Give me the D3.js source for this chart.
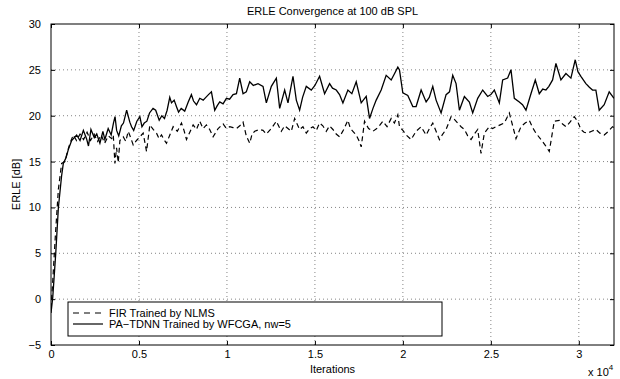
<!DOCTYPE html>
<html>
<head>
<meta charset="utf-8">
<script src="https://cdn.jsdelivr.net/npm/d3@7"></script>
<style>
  body { margin: 0; background: #fff; }
  svg { display: block; font-family: 'Liberation Sans', Arial, Helvetica, sans-serif; }
</style>
</head>
<body>
<div id="app"></div>
<script>
// iterations -> ERLE in dB
const xTicks = [0, 5000, 10000, 15000, 20000, 25000, 30000]
const yTicks = [-5, 0, 5, 10, 15, 20, 25, 30]

const firIter = [0, 100, 250, 420, 605, 794, 950, 1078, 1267, 1450, 1650, 1850, 2050, 2250, 2450, 2650, 2850, 3050, 3250, 3450, 3540, 3632, 3727, 3822, 3916, 4105, 4250, 4389, 4530, 4673, 4860, 5051, 5240, 5430, 5619, 5808, 5997, 6140, 6281, 6420, 6565, 6754, 6943, 7180, 7416, 7560, 7700, 7890, 8079, 8270, 8456, 8640, 8835, 9020, 9214, 9500, 9781, 9970, 10160, 10348, 10538, 10730, 10916, 11100, 11294, 11430, 11578, 11862, 12050, 12240, 12524, 12808, 13091, 13280, 13470, 13660, 13848, 14132, 14320, 14510, 14700, 14888, 15080, 15267, 15450, 15645, 15830, 16024, 16210, 16402, 16640, 16875, 17020, 17159, 17348, 17500, 17632, 17821, 18050, 18295, 18580, 18862, 19100, 19335, 19520, 19713, 19807, 20000, 20185, 20469, 20750, 21037, 21321, 21510, 21699, 21888, 22077, 22266, 22456, 22740, 22930, 23118, 23307, 23496, 23685, 23875, 24064, 24253, 24442, 24631, 24915, 25100, 25294, 25530, 25767, 26051, 26240, 26429, 26713, 26950, 27186, 27375, 27564, 27848, 28085, 28321, 28605, 28889, 29078, 29267, 29500, 29740, 29930, 30118, 30300, 30497, 30730, 30970, 31200, 31443, 31680, 31916, 32000]
const firErle = [-1.0, 2.0, 7.0, 12.0, 14.8, 15.0, 16.2, 17.0, 17.9, 17.3, 18.0, 17.4, 18.2, 17.3, 18.0, 17.2, 17.9, 17.0, 17.8, 17.5, 17.9, 14.8, 16.5, 14.9, 17.3, 17.7, 17.2, 18.3, 17.6, 16.8, 17.3, 17.7, 18.1, 16.1, 19.0, 18.5, 18.1, 17.5, 17.9, 17.4, 17.0, 17.9, 18.8, 18.3, 19.2, 18.4, 17.4, 18.2, 19.0, 18.5, 19.4, 18.6, 19.0, 18.5, 17.7, 18.6, 19.1, 18.6, 18.8, 18.7, 18.6, 18.9, 19.3, 17.8, 17.0, 18.0, 18.3, 18.5, 18.4, 18.0, 18.6, 19.4, 18.3, 18.9, 18.6, 18.3, 19.7, 18.5, 18.8, 18.1, 18.6, 18.8, 18.4, 19.2, 18.9, 18.3, 18.9, 18.5, 18.0, 17.7, 18.5, 19.5, 18.6, 18.3, 17.9, 17.3, 16.6, 19.4, 18.6, 18.3, 18.7, 19.4, 18.8, 19.7, 19.2, 20.1, 18.8, 18.4, 17.9, 17.4, 18.3, 18.8, 17.9, 18.6, 19.2, 18.3, 17.4, 18.0, 18.5, 19.9, 19.6, 19.2, 18.8, 18.5, 17.8, 17.4, 18.0, 18.5, 15.9, 18.1, 18.8, 18.6, 18.8, 19.0, 19.2, 20.3, 18.9, 17.5, 18.8, 19.2, 19.5, 18.7, 18.1, 17.4, 16.8, 16.1, 19.4, 19.5, 19.1, 18.8, 19.3, 19.9, 19.4, 18.5, 18.2, 18.1, 18.3, 18.5, 18.1, 17.9, 18.3, 18.8, 18.7]

const tdnnIter = [0, 100, 270, 420, 600, 700, 850, 984, 1173, 1457, 1650, 1840, 2020, 2130, 2270, 2460, 2600, 2780, 2950, 3060, 3250, 3420, 3550, 3640, 3730, 3850, 4000, 4120, 4300, 4480, 4580, 4700, 4880, 5050, 5170, 5300, 5450, 5600, 5800, 5950, 6150, 6300, 6450, 6600, 6750, 6850, 7000, 7150, 7250, 7400, 7600, 7800, 7980, 8100, 8270, 8456, 8650, 8800, 8950, 9118, 9307, 9450, 9591, 9780, 9970, 10150, 10348, 10540, 10726, 10916, 11100, 11294, 11500, 11767, 12051, 12240, 12524, 12808, 12997, 13281, 13470, 13754, 13943, 14132, 14300, 14510, 14794, 15000, 15267, 15551, 15835, 16000, 16213, 16400, 16592, 16875, 17100, 17348, 17632, 17916, 18105, 18300, 18484, 18767, 19051, 19335, 19500, 19713, 19807, 19996, 20280, 20564, 20753, 21037, 21321, 21500, 21699, 21888, 22172, 22456, 22650, 22834, 23023, 23213, 23496, 23780, 23969, 24253, 24537, 24821, 25000, 25199, 25483, 25672, 25956, 26145, 26334, 26618, 26800, 26997, 27280, 27526, 27753, 27950, 28131, 28300, 28510, 28699, 28983, 29267, 29551, 29797, 29950, 30118, 30402, 30600, 30780, 30970, 31159, 31443, 31727, 32000]
const tdnnErle = [-1.5, 0.2, 5.0, 10.0, 13.4, 14.8, 15.4, 16.3, 17.3, 17.9, 17.3, 18.4, 17.5, 16.7, 18.5, 17.6, 18.0, 17.0, 18.3, 17.4, 18.6, 17.9, 19.2, 19.9, 18.4, 17.8, 18.9, 19.2, 20.6, 19.3, 18.8, 18.4, 19.4, 19.9, 18.8, 19.2, 19.4, 20.3, 20.8, 20.6, 19.5, 20.0, 19.7, 20.6, 22.0, 21.4, 21.7, 20.9, 20.4, 20.8, 20.5, 21.5, 22.3, 21.6, 21.2, 21.9, 21.7, 22.0, 22.3, 22.6, 20.6, 21.1, 21.5, 21.3, 21.9, 21.8, 22.3, 22.4, 24.1, 22.4, 22.6, 23.7, 23.3, 23.5, 23.2, 21.4, 23.2, 24.1, 20.8, 22.8, 21.4, 24.3, 21.7, 20.6, 22.0, 23.2, 22.8, 23.3, 24.3, 22.4, 23.5, 23.0, 22.8, 22.3, 21.4, 22.8, 22.4, 23.7, 21.4, 22.1, 19.7, 20.8, 21.7, 22.8, 24.4, 23.9, 24.5, 25.3, 25.0, 22.5, 22.2, 21.0, 21.0, 22.8, 21.5, 22.0, 23.2, 21.7, 20.3, 22.3, 22.6, 24.4, 23.5, 20.6, 22.1, 21.5, 20.3, 21.9, 22.8, 22.1, 22.3, 22.8, 21.4, 23.9, 24.1, 25.0, 21.9, 21.5, 21.2, 20.6, 22.4, 23.9, 22.4, 22.9, 22.8, 23.2, 23.9, 25.7, 23.9, 24.6, 24.1, 26.1, 24.8, 24.3, 23.5, 23.1, 22.8, 22.8, 20.6, 21.2, 22.6, 21.9]

const seriesNames = ['FIR Trained by NLMS', 'PA\u2212TDNN Trained by WFCGA, nw=5']

const width = 620
const height = 379
const margin = { top: 24, right: 6, bottom: 34, left: 51 }

const svg = d3.select('#app').append('svg')
  .attr('width', width)
  .attr('height', height)
  .attr('viewBox', `0 0 ${width} ${height}`)

svg.append('rect').attr('width', width).attr('height', height).attr('fill', '#fff')

const x = d3.scaleLinear().domain([0, 32000]).range([margin.left, width - margin.right])
const y = d3.scaleLinear().domain([-5, 30]).range([height - margin.bottom, margin.top])

const x0 = margin.left, x1 = width - margin.right
const y0 = height - margin.bottom, y1 = margin.top

// dotted grid
const grid = svg.append('g')
  .attr('stroke', '#666')
  .attr('stroke-width', 0.8)
  .attr('stroke-dasharray', '1,3')
grid.selectAll('.gx')
  .data(xTicks.filter((d) => d > 0))
  .join('line')
  .attr('x1', (d) => x(d)).attr('x2', (d) => x(d))
  .attr('y1', y0).attr('y2', y1)
grid.selectAll('.gy')
  .data(yTicks.filter((d) => d > -5 && d < 30))
  .join('line')
  .attr('x1', x0).attr('x2', x1)
  .attr('y1', (d) => y(d)).attr('y2', (d) => y(d))

svg.append('clipPath').attr('id', 'plot-clip')
  .append('rect').attr('x', x0).attr('y', y1).attr('width', x1 - x0).attr('height', y0 - y1)

const firData = firIter.map((d, i) => [d, firErle[i]])
const tdnnData = tdnnIter.map((d, i) => [d, tdnnErle[i]])

const line = d3.line().x((d) => x(d[0])).y((d) => y(d[1]))

const plot = svg.append('g').attr('clip-path', 'url(#plot-clip)')
plot.append('path')
  .datum(firData)
  .attr('d', line)
  .attr('fill', 'none')
  .attr('stroke', '#000')
  .attr('stroke-width', 1.2)
  .attr('stroke-dasharray', '5,3.5')
plot.append('path')
  .datum(tdnnData)
  .attr('d', line)
  .attr('fill', 'none')
  .attr('stroke', '#000')
  .attr('stroke-width', 1.3)

// axes, ticks pointing inward like matlab
const fmtX = (d) => String(d / 10000)

svg.append('g')
  .attr('transform', `translate(0,${y0})`)
  .call(d3.axisBottom(x).tickValues(xTicks).tickFormat(fmtX).tickSizeInner(-4).tickSizeOuter(0).tickPadding(5))
svg.append('g')
  .attr('transform', `translate(0,${y1})`)
  .call(d3.axisTop(x).tickValues(xTicks).tickFormat('').tickSizeInner(-4).tickSizeOuter(0))
svg.append('g')
  .attr('transform', `translate(${x0},0)`)
  .call(d3.axisLeft(y).tickValues(yTicks).tickFormat((d) => (d < 0 ? '\u2212' + -d : d)).tickSizeInner(-4).tickSizeOuter(0).tickPadding(10))
svg.append('g')
  .attr('transform', `translate(${x1},0)`)
  .call(d3.axisRight(y).tickValues(yTicks).tickFormat('').tickSizeInner(-4).tickSizeOuter(0))

svg.selectAll('.tick text').attr('font-size', 11).attr('font-family', null).attr('fill', '#000')
svg.selectAll('.domain').remove()

svg.append('rect')
  .attr('x', x0).attr('y', y1)
  .attr('width', x1 - x0).attr('height', y0 - y1)
  .attr('fill', 'none').attr('stroke', '#000').attr('stroke-width', 1)

// labels
svg.append('text')
  .attr('x', (x0 + x1) / 2).attr('y', 15)
  .attr('text-anchor', 'middle').attr('font-size', 11)
  .text('ERLE Convergence at 100 dB SPL')

svg.append('text')
  .attr('x', (x0 + x1) / 2).attr('y', 373)
  .attr('text-anchor', 'middle').attr('font-size', 11)
  .text('Iterations')

svg.append('text')
  .attr('transform', `translate(20,${(y0 + y1) / 2}) rotate(-90)`)
  .attr('text-anchor', 'middle').attr('font-size', 11)
  .text('ERLE [dB]')

const expo = svg.append('text')
  .attr('x', 588).attr('y', 376)
  .attr('font-size', 11)
expo.append('tspan').text('x 10')
expo.append('tspan').attr('dy', -6).attr('font-size', 8).text('4')

// legend
const legend = svg.append('g')
legend.append('rect')
  .attr('x', 68).attr('y', 302).attr('width', 374).attr('height', 34)
  .attr('fill', '#fff').attr('stroke', '#000').attr('stroke-width', 1)

const rows = legend.selectAll('g')
  .data(seriesNames)
  .join('g')
  .attr('transform', (d, i) => `translate(0,${313 + i * 11})`)
rows.append('line')
  .attr('x1', 73).attr('x2', 103)
  .attr('stroke', '#000')
  .attr('stroke-width', 1.2)
  .attr('stroke-dasharray', (d, i) => (i === 0 ? '6,5' : null))
rows.append('text')
  .attr('x', 109).attr('dy', '0.35em')
  .attr('font-size', 11)
  .text((d) => d)
</script>
</body>
</html>
